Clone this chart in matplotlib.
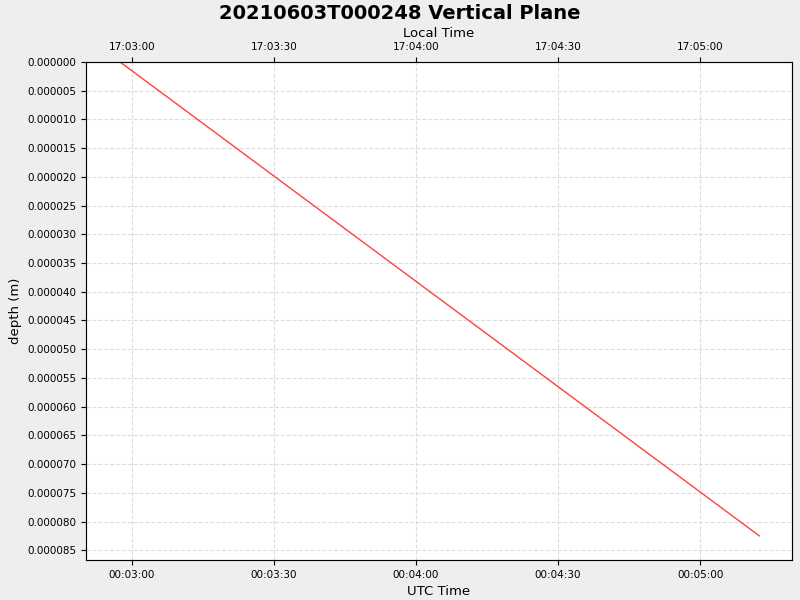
import matplotlib
matplotlib.use("Agg")
import matplotlib.pyplot as plt
from matplotlib.ticker import FuncFormatter, MultipleLocator

# data: seconds since 00:00:00 UTC, depth in m
utc_seconds = [177.5, 312.5]
depth = [0.0, 0.0000825]
local_offset_h = 17  # displayed local hour = UTC hour + 17 (previous day)

def fmt_utc(v, pos):
    v = int(round(v))
    return f"{v//3600:02d}:{(v%3600)//60:02d}:{v%60:02d}"

def fmt_local(v, pos):
    v = int(round(v)) + local_offset_h * 3600
    return f"{(v//3600)%24:02d}:{(v%3600)//60:02d}:{v%60:02d}"

fig = plt.figure(figsize=(8, 6), dpi=100, facecolor="#EEEEEE")
ax = fig.add_axes([86/800, 1-560/600, (792-86)/800, (560-62)/600])
ax.set_facecolor("white")
ax.plot(utc_seconds, depth, color="#FF4040", lw=1)
ax.set_xlim(170.3, 319.4)
ax.set_ylim(0.0000867, 0.0)
ax.yaxis.set_major_locator(MultipleLocator(0.000005))
ax.yaxis.set_major_formatter(FuncFormatter(lambda v, p: f"{v:.6f}"))
ax.xaxis.set_major_locator(MultipleLocator(30))
ax.xaxis.set_major_formatter(FuncFormatter(fmt_utc))
ax.grid(True, color="#DDDDDD", ls="--", lw=0.8)
ax.tick_params(labelsize=7.5)
for s in ax.spines.values():
    s.set_color("#888888")
ax.set_xlabel("UTC Time", fontsize=9.5)
ax.set_ylabel("depth (m)", fontsize=9.5)

ax2 = ax.twiny()
ax2.set_xlim(ax.get_xlim())
ax2.xaxis.set_major_locator(MultipleLocator(30))
ax2.xaxis.set_major_formatter(FuncFormatter(fmt_local))
ax2.tick_params(labelsize=7.5)
ax2.set_xlabel("Local Time", fontsize=9.5)

fig.suptitle("20210603T000248 Vertical Plane", fontsize=14, fontweight="bold", y=0.993)
fig.savefig("out.png", dpi=100, facecolor=fig.get_facecolor())
